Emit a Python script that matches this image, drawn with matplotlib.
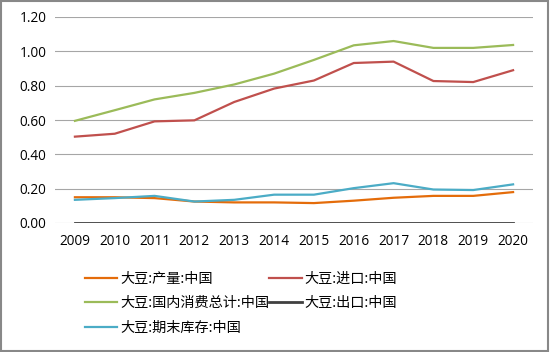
import matplotlib
matplotlib.use("Agg")
import matplotlib.pyplot as plt
from matplotlib.patches import Rectangle

years = ["2009", "2010", "2011", "2012", "2013", "2014", "2015", "2016", "2017", "2018", "2019", "2020"]
production = [0.150, 0.150, 0.145, 0.125, 0.120, 0.120, 0.116, 0.130, 0.147, 0.158, 0.158, 0.180]
imports = [0.503, 0.520, 0.592, 0.598, 0.705, 0.783, 0.830, 0.932, 0.940, 0.827, 0.821, 0.890]
consumption = [0.595, 0.657, 0.720, 0.758, 0.807, 0.870, 0.950, 1.035, 1.060, 1.020, 1.020, 1.037]
exports = [0.001, 0.001, 0.001, 0.001, 0.001, 0.001, 0.001, 0.001, 0.001, 0.001, 0.001, 0.001]
stocks = [0.135, 0.145, 0.158, 0.125, 0.135, 0.165, 0.165, 0.203, 0.232, 0.195, 0.192, 0.225]

labels = ["大豆:产量:中国", "大豆:进口:中国", "大豆:国内消费总计:中国", "大豆:出口:中国", "大豆:期末库存:中国"]
colors = ["#E46C0A", "#C0504D", "#9BBB59", "#404040", "#4BACC6"]
series = [production, imports, consumption, exports, stocks]

plt.rcParams['font.family'] = ['Open Sans', 'Noto Sans CJK SC', 'DejaVu Sans']

fig = plt.figure(figsize=(5.5, 3.52), dpi=100)
ax = fig.add_axes([55/550, 1-223/352, 478/550, 206/352])

x = list(range(len(years)))
handles = {}
for lab, col, vals in zip(labels, colors, series):
    lw = 2.0 if col == "#404040" else 1.6
    h, = ax.plot(x, vals, color=col, lw=lw, label=lab, zorder=3)
    handles[lab] = h

ax.set_xlim(-0.5, len(years)-0.5)
ax.set_ylim(0, 1.2)
ax.set_yticks([0, 0.2, 0.4, 0.6, 0.8, 1.0, 1.2])
ax.set_yticklabels([f"{v:.2f}" for v in [0, 0.2, 0.4, 0.6, 0.8, 1.0, 1.2]], fontsize=9.8)
ax.set_xticks(x)
ax.set_xticklabels(years, fontsize=9.8)
ax.grid(axis='y', color='#A6A6A6', lw=0.8)
ax.set_axisbelow(True)
for s in ax.spines.values():
    s.set_visible(False)
ax.tick_params(length=0, pad=8)
ax.tick_params(axis='y', pad=6)

order = [labels[0], labels[2], labels[4], labels[1], labels[3]]
leg = fig.legend([handles[l] for l in order], order, ncol=2,
                 loc='upper left', bbox_to_anchor=(72/550, 1-259/352),
                 frameon=False, handlelength=2.3, handletextpad=0.2,
                 columnspacing=0.0, labelspacing=0.75,
                 prop={'family': ['Noto Sans CJK SC', 'DejaVu Sans'], 'size': 10.2})

fig.patches.append(Rectangle((0.002, 0.003), 0.995, 0.994, transform=fig.transFigure,
                             fill=False, edgecolor='#888888', lw=1.5))

fig.savefig("out.png", dpi=100)
